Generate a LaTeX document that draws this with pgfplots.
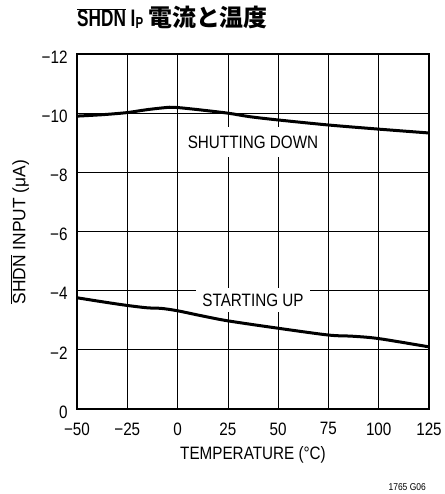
\documentclass[border=0pt]{standalone}
\usepackage{fontspec}
\usepackage{pgfplots}
\pgfplotsset{compat=1.18}
\setmainfont{Liberation Sans}[FakeStretch=0.85]
\newfontfamily\titlefont{Liberation Sans}[FakeStretch=0.72]
\newfontfamily\ylabfont{Liberation Sans}[FakeStretch=0.97]
\newfontfamily\cjk{Noto Sans CJK JP}
\begin{document}
\begin{tikzpicture}[x=1bp,y=1bp]
\useasboundingbox (0,0) rectangle (445,494);
\begin{axis}[
  at={(77bp,85bp)}, anchor=south west,
  scale only axis, width=352bp, height=355bp,
  xmin=-50, xmax=125, ymin=-12, ymax=0, y dir=reverse,
  xtick={-50,-25,0,25,50,75,100,125},
  xticklabels={−50,−25,0,25,50,75,100,125},
  ytick={-12,-10,-8,-6,-4,-2,0},
  yticklabels={−12,−10,−8,−6,−4,−2,0},
  grid=major, grid style={black, line width=0.7bp},
  axis line style={line width=1.3bp},
  tick style={draw=none},
  ticklabel style={font=\fontsize{18}{18}\selectfont},
  xticklabel style={yshift=-10bp},
  yticklabel style={xshift=-6bp, yshift=-3bp},
  clip=false,
]
\addplot[black, line width=3bp, smooth, tension=0.5] coordinates {
(-50,-9.90) (-37,-9.95) (-25,-10.02) (-15,-10.12) (-4,-10.20) (0,-10.19) (10,-10.12) (25,-10.00) (36,-9.88) (50,-9.77) (75,-9.60) (100,-9.46) (125,-9.33)};
\addplot[black, line width=3bp, smooth, tension=0.5] coordinates {
(-50,-3.76) (-37,-3.62) (-25,-3.50) (-15,-3.42) (-8,-3.40) (0,-3.32) (12,-3.15) (25,-2.98) (50,-2.73) (75,-2.50) (87,-2.46) (100,-2.38) (125,-2.10)};
\node[fill=white, inner xsep=6bp, inner ysep=9bp, font=\fontsize{18}{18}\selectfont] at (axis cs:37.5,-9.03) {SHUTTING DOWN};
\node[fill=white, inner xsep=6bp, inner ysep=6bp, font=\fontsize{18}{18}\selectfont] at (axis cs:37.5,-3.68) {STARTING UP};
\end{axis}
\node[font=\fontsize{18}{18}\selectfont] at (253,39) {TEMPERATURE (°C)};
\node[rotate=90, font=\ylabfont\fontsize{18}{18}\selectfont] at (20,262) {$\overline{\hbox{\ylabfont\fontsize{18}{18}\selectfont SHDN}}$ INPUT (μA)};
\node[anchor=base west, inner sep=0pt] at (77,467) {\titlefont\bfseries\fontsize{24}{24}\selectfont $\overline{\hbox{\titlefont\bfseries\fontsize{24}{24}\selectfont SHDN}}$ I\raisebox{-2bp}{\fontsize{16}{16}\selectfont P}\hspace{5bp}{\cjk\bfseries\fontsize{24}{24}\selectfont 電流と温度}};
\node[anchor=base east, inner sep=0pt, font=\fontsize{10}{10}\selectfont] at (426,3) {1765 G06};
\end{tikzpicture}
\end{document}
